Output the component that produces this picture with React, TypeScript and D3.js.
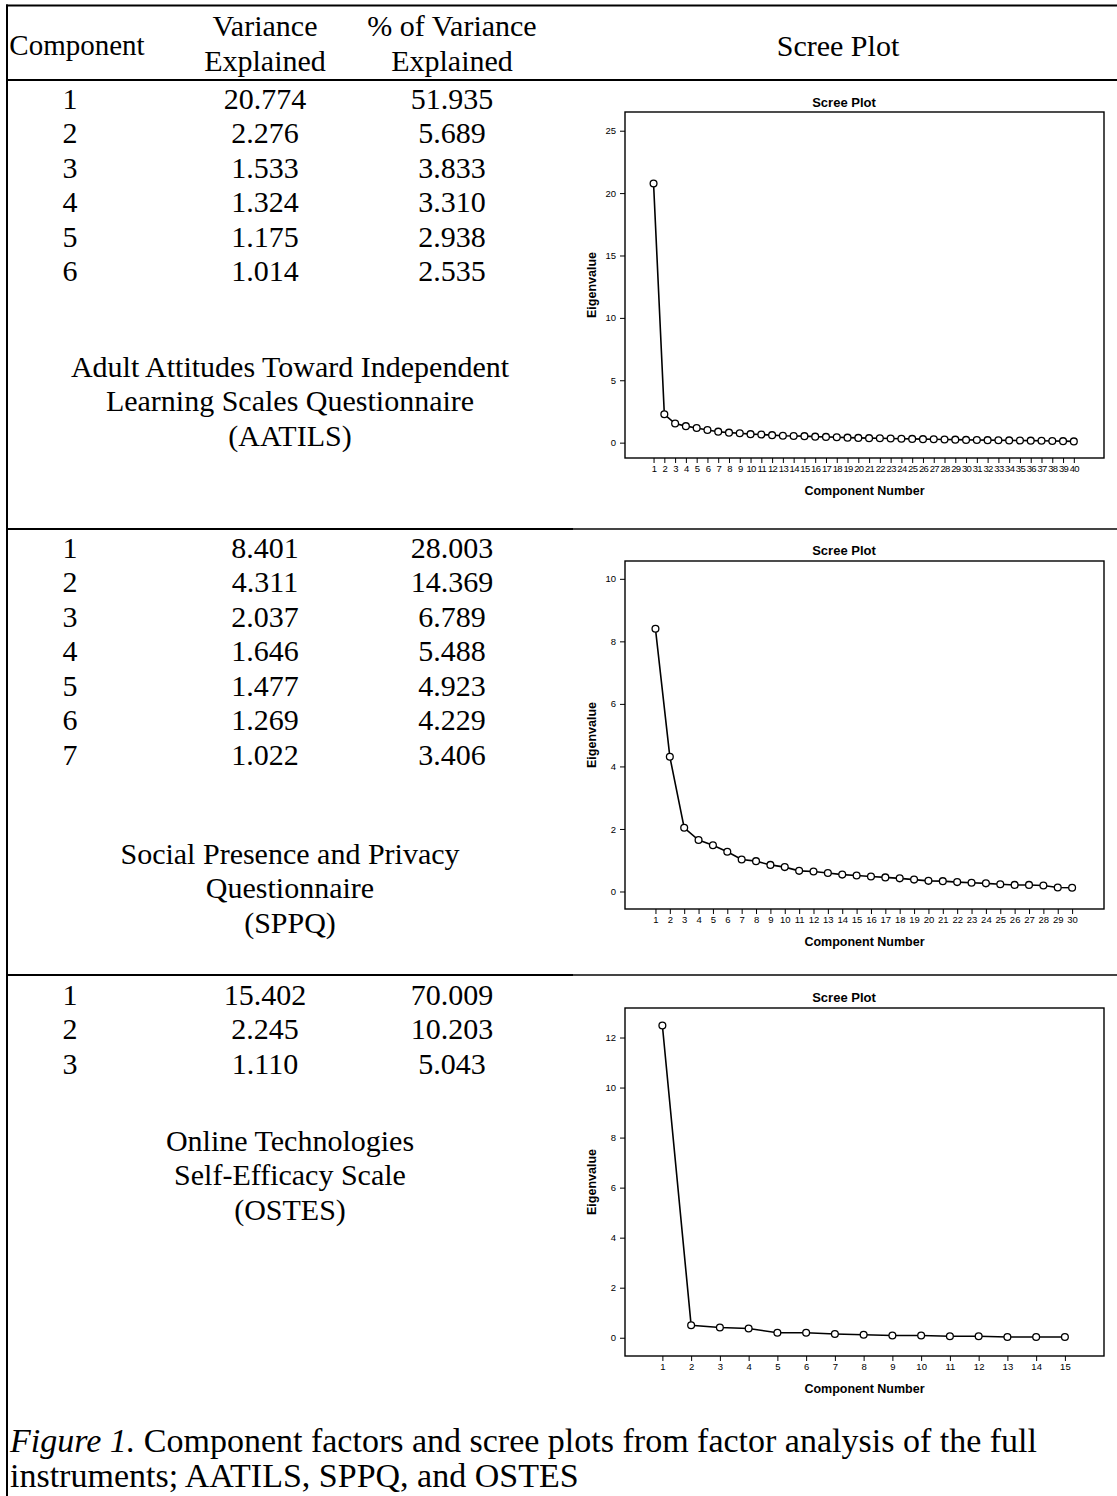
import React, { useEffect, useRef } from "react";
import * as d3 from "d3";

// ---- table values ----
const comps1 = [1, 2, 3, 4, 5, 6];
const varExp1 = ["20.774", "2.276", "1.533", "1.324", "1.175", "1.014"];
const pctExp1 = ["51.935", "5.689", "3.833", "3.310", "2.938", "2.535"];
const name1 = ["Adult Attitudes Toward Independent", "Learning Scales Questionnaire", "(AATILS)"];

const comps2 = [1, 2, 3, 4, 5, 6, 7];
const varExp2 = ["8.401", "4.311", "2.037", "1.646", "1.477", "1.269", "1.022"];
const pctExp2 = ["28.003", "14.369", "6.789", "5.488", "4.923", "4.229", "3.406"];
const name2 = ["Social Presence and Privacy", "Questionnaire", "(SPPQ)"];

const comps3 = [1, 2, 3];
const varExp3 = ["15.402", "2.245", "1.110"];
const pctExp3 = ["70.009", "10.203", "5.043"];
const name3 = ["Online Technologies", "Self-Efficacy Scale", "(OSTES)"];

// ---- scree plot eigenvalues ----
const eigen1 = [
  20.774, 2.276, 1.533, 1.324, 1.175, 1.014, 0.88, 0.8, 0.75, 0.68,
  0.65, 0.6, 0.55, 0.53, 0.52, 0.48, 0.46, 0.43, 0.4, 0.38,
  0.36, 0.35, 0.33, 0.31, 0.3, 0.28, 0.27, 0.25, 0.24, 0.22,
  0.21, 0.2, 0.19, 0.18, 0.17, 0.16, 0.15, 0.13, 0.12, 0.1,
];
const eigen2 = [
  8.401, 4.311, 2.037, 1.646, 1.477, 1.269, 1.022, 0.97, 0.85, 0.78,
  0.66, 0.64, 0.59, 0.54, 0.51, 0.48, 0.45, 0.42, 0.38, 0.34,
  0.33, 0.3, 0.28, 0.26, 0.23, 0.21, 0.21, 0.19, 0.13, 0.12,
];
const eigen3 = [12.48, 0.5, 0.41, 0.37, 0.2, 0.2, 0.15, 0.12, 0.09, 0.09, 0.06, 0.06, 0.03, 0.03, 0.03];

const yTicks1 = [0, 5, 10, 15, 20, 25];
const yTicks2 = [0, 2, 4, 6, 8, 10];
const yTicks3 = [0, 2, 4, 6, 8, 10, 12];

const W = 1117, H = 1496;
const SERIF = "'Liberation Serif', 'Times New Roman', serif";
const SANS = "'Liberation Sans', Arial, sans-serif";
const FS = 30;
const PITCH = 34.5;

const sections = [
  { comps: comps1, varExp: varExp1, pct: pctExp1, name: name1, rowTop: 98, nameTop: 366,
    eigen: eigen1, yTicks: yTicks1, yDom: [-1.23, 26.5], xPad: [2.65, 2.8], frameTop: 112, frameBottom: 458, titleY: 102 },
  { comps: comps2, varExp: varExp2, pct: pctExp2, name: name2, rowTop: 547, nameTop: 853,
    eigen: eigen2, yTicks: yTicks2, yDom: [-0.56, 10.57], xPad: [2.12, 2.22], frameTop: 561, frameBottom: 909, titleY: 550 },
  { comps: comps3, varExp: varExp3, pct: pctExp3, name: name3, rowTop: 994, nameTop: 1140,
    eigen: eigen3, yTicks: yTicks3, yDom: [-0.73, 13.18], xPad: [1.3, 1.36], frameTop: 1008, frameBottom: 1356, titleY: 997 },
];

function App() {
  const svgRef = useRef<SVGSVGElement>(null);

  useEffect(() => {
    const svg = d3.select(svgRef.current);
    svg.selectAll("*").remove();

    const colX = [77, 265, 452];
    const plotLeft = 625, plotRight = 1104;

    const txt = (x: number, y: number, s: string, anchor = "middle", fs = FS) =>
      svg.append("text")
        .attr("x", x).attr("y", y).attr("dy", "0.35em")
        .attr("text-anchor", anchor)
        .attr("font-family", SERIF).attr("font-size", fs)
        .attr("fill", "#000")
        .text(s);

    // table rules
    const rule = (x1: number, x2: number, y: number, c = "#000") =>
      svg.append("line").attr("x1", x1).attr("x2", x2).attr("y1", y).attr("y2", y)
        .attr("stroke", c).attr("stroke-width", 2);
    rule(6, W, 5.5);
    rule(6, W, 80);
    rule(6, 573, 529); rule(573, W, 529, "#444");
    rule(6, 573, 975); rule(573, W, 975, "#444");
    svg.append("line").attr("x1", 7).attr("x2", 7).attr("y1", 4.5).attr("y2", H)
      .attr("stroke", "#000").attr("stroke-width", 2);

    // header
    txt(colX[0], 45, "Component", "middle", 29);
    txt(colX[1], 25, "Variance");
    txt(colX[1], 60, "Explained");
    txt(colX[2], 25, "% of Variance");
    txt(colX[2], 60, "Explained");
    txt(838, 45, "Scree Plot");

    sections.forEach((s) => {
      s.comps.forEach((c, i) => {
        const y = s.rowTop + i * PITCH;
        txt(70, y, String(c));
        txt(colX[1], y, s.varExp[i]);
        txt(colX[2], y, s.pct[i]);
      });
      s.name.forEach((line, i) => txt(290, s.nameTop + i * PITCH, line));

      // scree plot
      const n = s.eigen.length;
      const x = d3.scaleLinear().domain([1 - s.xPad[0], n + s.xPad[1]]).range([plotLeft, plotRight]);
      const y = d3.scaleLinear().domain(s.yDom).range([s.frameBottom, s.frameTop]);
      const g = svg.append("g");

      g.append("rect")
        .attr("x", plotLeft).attr("y", s.frameTop)
        .attr("width", plotRight - plotLeft).attr("height", s.frameBottom - s.frameTop)
        .attr("fill", "none").attr("stroke", "#000").attr("stroke-width", 1.4);

      const ya = g.append("g")
        .attr("transform", `translate(${plotLeft},0)`)
        .call(d3.axisLeft(y).tickValues(s.yTicks).tickSize(5).tickPadding(4).tickFormat(d3.format("d")));
      ya.select(".domain").remove();
      ya.attr("font-family", SANS).attr("font-size", 9.5);
      ya.selectAll("line").attr("stroke", "#000");

      const xa = g.append("g")
        .attr("transform", `translate(0,${s.frameBottom})`)
        .call(d3.axisBottom(x).tickValues(d3.range(1, n + 1)).tickSize(5).tickPadding(2).tickFormat(d3.format("d")));
      xa.select(".domain").remove();
      xa.attr("font-family", SANS).attr("font-size", 9.5);
      xa.selectAll("line").attr("stroke", "#000");
      if (n > 30) xa.selectAll("text").attr("letter-spacing", -0.7);

      const line = d3.line<number>().x((d, i) => x(i + 1)).y((d) => y(d));
      g.append("path").datum(s.eigen)
        .attr("d", line).attr("fill", "none").attr("stroke", "#000").attr("stroke-width", 1.6);

      g.selectAll("circle.pt").data(s.eigen).join("circle")
        .attr("class", "pt")
        .attr("cx", (d, i) => x(i + 1)).attr("cy", (d) => y(d))
        .attr("r", 3.4).attr("fill", "#fff").attr("stroke", "#000").attr("stroke-width", 1.3);

      g.append("text")
        .attr("x", 844).attr("y", s.titleY).attr("dy", "0.35em")
        .attr("text-anchor", "middle").attr("font-family", SANS).attr("font-weight", "bold")
        .attr("font-size", 13).text("Scree Plot");

      g.append("text")
        .attr("x", (plotLeft + plotRight) / 2).attr("y", s.frameBottom + 32.5).attr("dy", "0.35em")
        .attr("text-anchor", "middle").attr("font-family", SANS).attr("font-weight", "bold")
        .attr("font-size", 12.5).text("Component Number");

      g.append("text")
        .attr("transform", `translate(592,${(s.frameTop + s.frameBottom) / 2}) rotate(-90)`)
        .attr("dy", "0.35em")
        .attr("text-anchor", "middle").attr("font-family", SANS).attr("font-weight", "bold")
        .attr("font-size", 12.5).text("Eigenvalue");
    });

    // caption
    const cap = svg.append("text")
      .attr("x", 10).attr("y", 1440).attr("dy", "0.35em")
      .attr("font-family", SERIF).attr("font-size", 34);
    cap.append("tspan").attr("font-style", "italic").text("Figure 1.");
    cap.append("tspan").text(" Component factors and scree plots from factor analysis of the full");
    txt(10, 1475, "instruments; AATILS, SPPQ, and OSTES", "start", 34);
  }, []);

  return (
    <svg
      ref={svgRef}
      width={W}
      height={H}
      style={{ position: "absolute", left: 0, top: 0, background: "#fff", display: "block" }}
    />
  );
}

export default App;
